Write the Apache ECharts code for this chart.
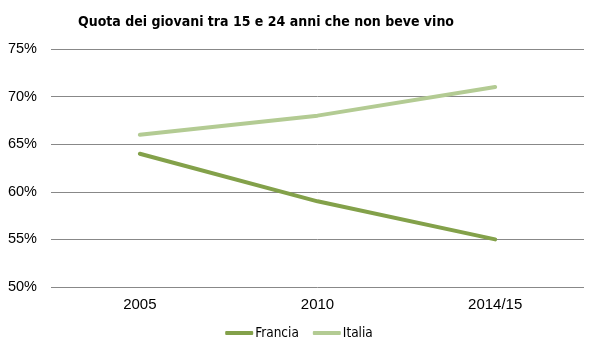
<!DOCTYPE html>
<html><head><meta charset="utf-8">
<script src="https://cdn.jsdelivr.net/npm/echarts@6/dist/echarts.min.js"></script>
<style>html,body{margin:0;padding:0;background:#fff}#c{width:598px;height:357px}</style>
</head><body><div id="c"></div>
<script>
const categories = ['2005', '2010', '2014/15'];
const francia = [64, 59, 55];
const italia = [66, 68, 71];
const cond = '"DejaVu Sans Condensed", "Liberation Sans", sans-serif';
const chart = echarts.init(document.getElementById('c'), null, {renderer: 'canvas'});
chart.setOption({
  animation: false,
  backgroundColor: '#fff',
  title: {
    text: 'Quota dei giovani tra 15 e 24 anni che non beve vino',
    left: 73, top: 10,
    textStyle: {fontFamily: cond, fontWeight: 'bold', fontSize: 14, color: '#000'}
  },
  legend: {
    bottom: 12, left: 'center',
    itemWidth: 28, itemHeight: 4, itemGap: 14,
    icon: 'roundRect',
    textStyle: {fontFamily: cond, fontSize: 13.5, color: '#000', padding: [0,0,0,-3]},
    data: ['Francia', 'Italia']
  },
  grid: {left: 51, right: 14, top: 49, bottom: 70, containLabel: false},
  xAxis: {
    type: 'category', data: categories, boundaryGap: true,
    axisLine: {show: false}, axisTick: {show: false},
    axisLabel: {fontFamily: 'Liberation Sans', fontSize: 15, color: '#000', margin: 10}
  },
  yAxis: {
    type: 'value', min: 50, max: 75, interval: 5,
    axisLine: {show: false}, axisTick: {show: false},
    axisLabel: {formatter: '{value}%', fontFamily: 'Liberation Sans', fontSize: 14.5, color: '#000', margin: 14},
    splitLine: {lineStyle: {color: '#888', width: 1}}
  },
  series: [
    {name: 'Francia', type: 'line', data: francia, symbol: 'none', lineStyle: {width: 4, color: '#83a14a', cap: 'round'}, itemStyle: {color: '#83a14a'}},
    {name: 'Italia', type: 'line', data: italia, symbol: 'none', lineStyle: {width: 4, color: '#b3cb93', cap: 'round'}, itemStyle: {color: '#b3cb93'}}
  ]
});
</script></body></html>
